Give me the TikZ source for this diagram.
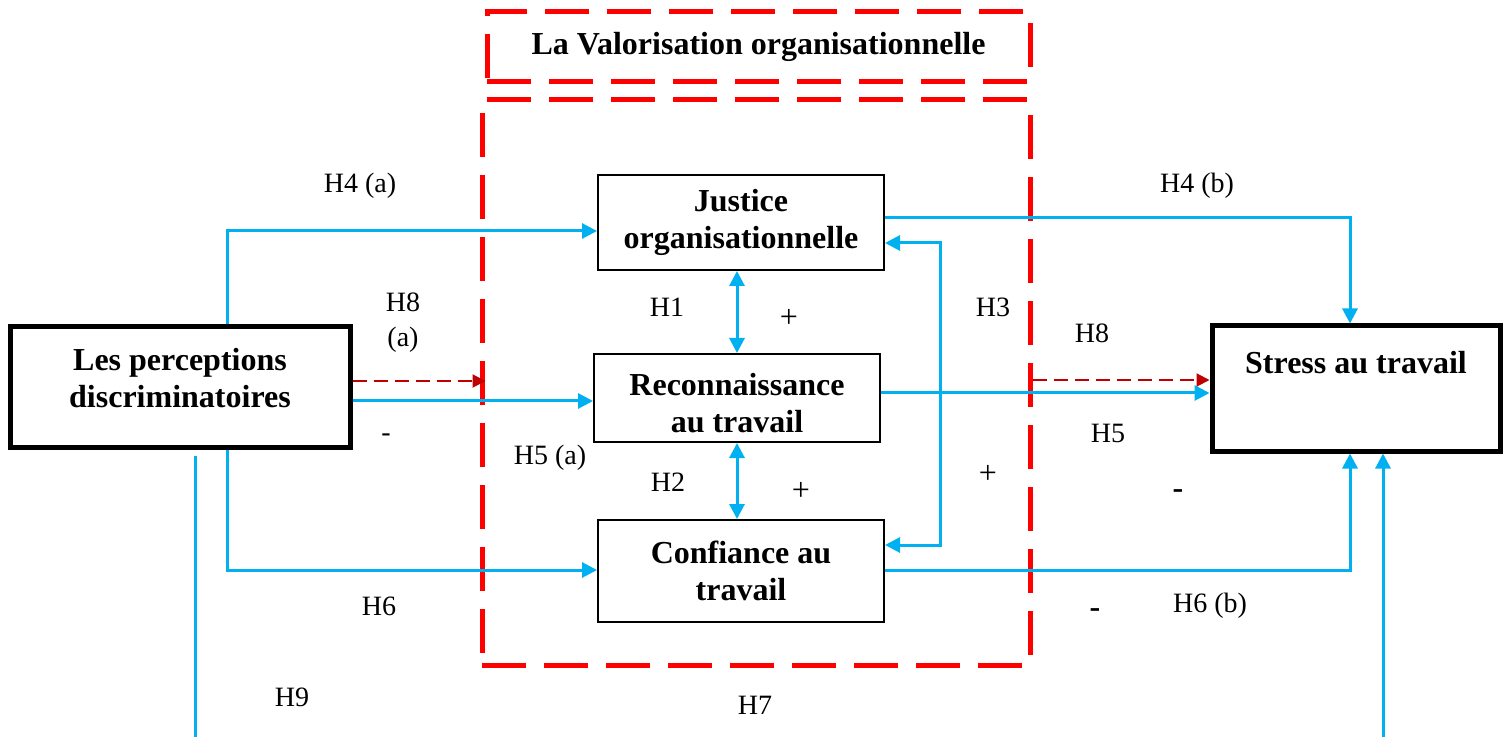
\documentclass[tikz,border=0pt]{standalone}
\usepackage{fontspec}
\setmainfont{Liberation Serif}
\usetikzlibrary{arrows.meta, positioning, calc}
\definecolor{linkblue}{HTML}{00B0F0}
\definecolor{modred}{HTML}{C00000}

\begin{document}
\begin{tikzpicture}[
  x=0.5pt, y=-0.5pt,
  box/.style={draw, line width=1pt, inner sep=0pt, align=center,
    font=\fontsize{16}{18.5}\selectfont\bfseries},
  mainbox/.style={box, line width=2.5pt},
  boxtext/.style={box, draw=none},
  frame/.style={draw=red, line width=2.5pt, dash pattern=on 22pt off 9pt, inner sep=0pt},
  link/.style={draw=linkblue, line width=1.5pt, -{Triangle[length=7.5pt, width=7.5pt]}},
  twoway/.style={link, {Triangle[length=7.5pt, width=7.5pt]}-{Triangle[length=7.5pt, width=7.5pt]}},
  modarrow/.style={draw=modred, line width=1pt, dash pattern=on 7pt off 3.5pt,
    -{Triangle[length=6.5pt, width=6.5pt]}},
  hyp/.style={font=\fontsize{14}{16}\selectfont, inner sep=0pt},
  sign/.style={hyp, font=\fontsize{16}{16}\selectfont}
]
\useasboundingbox (0,0) rectangle (1509,737);

% frames
\node[frame, minimum width=271.5pt, minimum height=35pt,
  font=\fontsize{16}{18.5}\selectfont\bfseries] (valtitle) at (758.5,47) {La Valorisation organisationnelle};
\node[frame, minimum width=274pt, minimum height=282.5pt] (valframe) at (756,382.5) {};

% boxes
\node[mainbox, minimum width=170pt, minimum height=60pt,
  label={[boxtext, yshift=4.5pt]center:{Les perceptions\\discriminatoires}}] (perc) at (180,387) {};
\node[mainbox, minimum width=144pt, minimum height=62.5pt,
  label={[boxtext, yshift=13pt]center:Stress au travail}] (stress) at (1356,388.5) {};
\node[box, minimum width=143pt, minimum height=47.5pt] (just) at (741,222.5) {Justice\\organisationnelle};
\node[box, minimum width=143pt, minimum height=44pt,
  label={[boxtext, yshift=-2.5pt]center:{Reconnaissance\\au travail}}] (recon) at (737,398) {};
\node[box, minimum width=143pt, minimum height=51pt] (conf) at (741,571) {Confiance au\\travail};

% bends
\coordinate (jin) at (227,231);
\coordinate (rin) at (0,401);
\coordinate (cin) at (227,570);
\coordinate (h9end) at (195,737);
\coordinate (h7start) at (1383,737);
\coordinate (jout) at (1350,218);
\coordinate (rout) at (0,393);
\coordinate (cout) at (1350,570);
\coordinate (looptop) at (940,243);
\coordinate (loopbot) at (940,545);
\coordinate (modl) at (0,381);
\coordinate (modr) at (0,380);

% connectors
\draw[link] (perc.north -| jin) |- (just.west |- jin);
\draw[link] (perc.east |- rin) -- (recon.west |- rin);
\draw[link] (perc.south -| cin) |- (conf.west |- cin);
\draw[link, -] ([yshift=-3pt]perc.south -| h9end) -- (h9end);
\draw[link] (h7start) -- (h7start |- stress.south);
\draw[link] (just.east |- jout) -| (stress.north -| jout);
\draw[link] (recon.east |- rout) -- (stress.west |- rout);
\draw[link] (conf.east |- cout) -| (stress.south -| cout);
\draw[twoway] (recon.north |- just.south) -- (recon.north);
\draw[twoway] (recon.south) -- (recon.south |- conf.north);
\draw[twoway] (just.east |- looptop) -- (looptop) -- (loopbot) -- (conf.east |- loopbot);
\draw[modarrow] (perc.east |- modl) -- ([xshift=3pt]valframe.west |- modl);
\draw[modarrow] (valframe.east |- modr) -- (stress.west |- modr);

% labels
\node[hyp] (h4a) at (360,186) {H4 (a)};
\node[hyp] (h8a) at (403,302) {H8};
\node[hyp] (h8b) at (403,340) {(a)};
\node[hyp] (minus1) at (386,438) {-};
\node[hyp] (h5a) at (550,458) {H5 (a)};
\node[hyp] (h1) at (667,307) {H1};
\node[sign] (plus1) at (789,318) {+};
\node[hyp] (h2) at (668,482) {H2};
\node[sign] (plus2) at (801,491) {+};
\node[hyp] (h3) at (993,307) {H3};
\node[sign] (plus3) at (988,474) {+};
\node[hyp] (h8) at (1092,333) {H8};
\node[hyp] (h5) at (1108,433) {H5};
\node[sign, font=\fontsize{16}{16}\selectfont\bfseries] (minus2) at (1178,494) {-};
\node[hyp] (h6) at (379,606) {H6};
\node[hyp] (h9) at (292,697) {H9};
\node[hyp] (h7) at (755,705) {H7};
\node[sign, font=\fontsize{16}{16}\selectfont\bfseries] (minus3) at (1095,613) {-};
\node[hyp] (h6b) at (1210,606) {H6 (b)};
\node[hyp] (h4b) at (1197,186) {H4 (b)};
\end{tikzpicture}
\end{document}
